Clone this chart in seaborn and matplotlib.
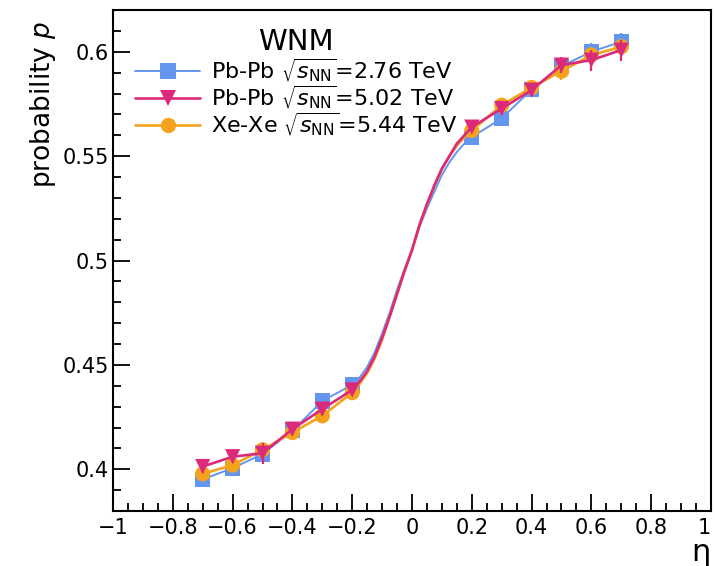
import numpy as np
import pandas as pd
import matplotlib
matplotlib.use("Agg")
import matplotlib.pyplot as plt
import seaborn as sns
from matplotlib.ticker import MultipleLocator, FixedLocator
from matplotlib.lines import Line2D

# ---------------- data ----------------
eta_pts = [-0.7, -0.6, -0.5, -0.4, -0.3, -0.2, 0.2, 0.3, 0.4, 0.5, 0.6, 0.7]
p_pbpb276 = [0.3952, 0.4005, 0.4073, 0.4184, 0.4327, 0.4404, 0.5591, 0.5681, 0.5819, 0.5931, 0.6000, 0.6048]
p_pbpb502 = [0.4013, 0.4060, 0.4077, 0.4192, 0.4288, 0.4380, 0.5639, 0.5728, 0.5816, 0.5936, 0.5960, 0.6008]
p_xexe544 = [0.3978, 0.4020, 0.4093, 0.4176, 0.4256, 0.4367, 0.5623, 0.5744, 0.5829, 0.5907, 0.5984, 0.6024]
err_pbpb276 = [0.003, 0.003, 0.002, 0.002, 0.002, 0.002, 0.002, 0.002, 0.002, 0.003, 0.004, 0.004]
err_pbpb502 = [0.003, 0.003, 0.005, 0.003, 0.003, 0.002, 0.002, 0.003, 0.003, 0.004, 0.005, 0.005]
err_xexe544 = [0.003, 0.003, 0.003, 0.002, 0.002, 0.002, 0.002, 0.002, 0.002, 0.004, 0.004, 0.003]

# model curve in the gap (-0.2 .. 0.2)
eta_curve = [-0.175, -0.15, -0.125, -0.1, -0.075, -0.05, -0.025, 0.0,
             0.025, 0.05, 0.075, 0.1, 0.125, 0.15, 0.175]
curve_pbpb276 = [0.444, 0.449, 0.456, 0.465, 0.475, 0.486, 0.496, 0.505,
                 0.516, 0.525, 0.533, 0.541, 0.547, 0.552, 0.556]
curve_pbpb502 = [0.442, 0.447, 0.454, 0.463, 0.473, 0.484, 0.495, 0.505,
                 0.517, 0.527, 0.536, 0.544, 0.550, 0.556, 0.560]
curve_xexe544 = [0.441, 0.446, 0.453, 0.462, 0.473, 0.484, 0.495, 0.505,
                 0.517, 0.527, 0.536, 0.544, 0.550, 0.555, 0.559]

labels = [r"Pb-Pb $\sqrt{s_{\rm NN}}$=2.76 TeV",
          r"Pb-Pb $\sqrt{s_{\rm NN}}$=5.02 TeV",
          r"Xe-Xe $\sqrt{s_{\rm NN}}$=5.44 TeV"]
legend_title = "WNM"
xlabel = "η"
ylabel = "probability $p$"
xtick_vals = [-1, -0.8, -0.6, -0.4, -0.2, 0, 0.2, 0.4, 0.6, 0.8, 1]
xtick_labels = ["−1", "−0.8", "−0.6", "−0.4", "−0.2", "0", "0.2", "0.4", "0.6", "0.8", "1"]
ytick_vals = [0.4, 0.45, 0.5, 0.55, 0.6]
ytick_labels = ["0.4", "0.45", "0.5", "0.55", "0.6"]

colors = ["#6496F0", "#DC2A7B", "#F5A31C"]
markers = ["s", "v", "o"]

# ---------------- style ----------------
sns.set_theme(style="ticks")
plt.rcParams["font.family"] = ["DejaVu Sans"]
plt.rcParams["mathtext.fontset"] = "dejavusans"
for key in ["text.color", "axes.labelcolor", "xtick.color", "ytick.color", "axes.edgecolor"]:
    plt.rcParams[key] = "black"

fig = plt.figure(figsize=(7.15, 5.66), dpi=100)
ax = fig.add_axes([113 / 715, 1 - 511 / 566, (711 - 113) / 715, (511 - 10) / 566])

all_series = [(p_pbpb276, err_pbpb276, curve_pbpb276),
              (p_pbpb502, err_pbpb502, curve_pbpb502),
              (p_xexe544, err_xexe544, curve_xexe544)]
order = [0, 2, 1]  # blue, orange, magenta on top
lws = [1.4, 1.9, 1.9]

for k, idx in enumerate(order):
    pts, err, cur = all_series[idx]
    xs = eta_pts[:6] + eta_curve + eta_pts[6:]
    ys = pts[:6] + cur + pts[6:]
    df_line = pd.DataFrame({"eta": xs, "p": ys})
    sns.lineplot(data=df_line, x="eta", y="p", sort=False, color=colors[idx],
                 lw=lws[idx], ax=ax, zorder=2 + k)
    ax.errorbar(eta_pts, pts, yerr=err, fmt="none", ecolor=colors[idx],
                elinewidth=1.6, capsize=0, zorder=2 + k)
    df_pts = pd.DataFrame({"eta": eta_pts, "p": pts})
    sns.scatterplot(data=df_pts, x="eta", y="p", marker=markers[idx],
                    color=colors[idx], s=120, edgecolor="none", ax=ax,
                    zorder=3 + k)

# legend
handles = [Line2D([0], [0], color=colors[i], lw=lws[i], marker=markers[i],
                  markersize=11, markeredgewidth=0) for i in range(3)]
leg = ax.legend(handles, labels, title=legend_title, loc="upper left",
                bbox_to_anchor=(0.015, 0.99), frameon=False, fontsize=16,
                title_fontsize=21, handlelength=2.9, handletextpad=0.5,
                labelspacing=-0.03, borderaxespad=0.2)
leg._legend_box.align = "center"
leg._legend_box.sep = 0

ax.set_xlim(-1, 1)
ax.set_ylim(0.38, 0.62)
ax.xaxis.set_minor_locator(MultipleLocator(0.05))
ax.yaxis.set_minor_locator(MultipleLocator(0.01))
ax.set_xticks(xtick_vals)
ax.set_xticklabels(xtick_labels)
ax.set_yticks(ytick_vals)
ax.set_yticklabels(ytick_labels)
ax.tick_params(which="both", direction="in", top=False, right=False,
               labelsize=15, width=1.3, color="black", labelcolor="black")
ax.tick_params(which="major", length=12)
ax.tick_params(which="minor", length=6)
ax.tick_params(axis="x", pad=5)
ax.tick_params(axis="y", pad=3)
ax.get_xticklabels()[-1].set_horizontalalignment("right")

ax.set_xlabel(xlabel, fontsize=22, loc="right", labelpad=0)
ax.set_ylabel(ylabel, fontsize=19, loc="top")
ax.yaxis.set_label_coords(-0.092, 0.978)

for s in ax.spines.values():
    s.set_linewidth(1.5)
    s.set_color("black")

fig.savefig("out.png", dpi=100)
